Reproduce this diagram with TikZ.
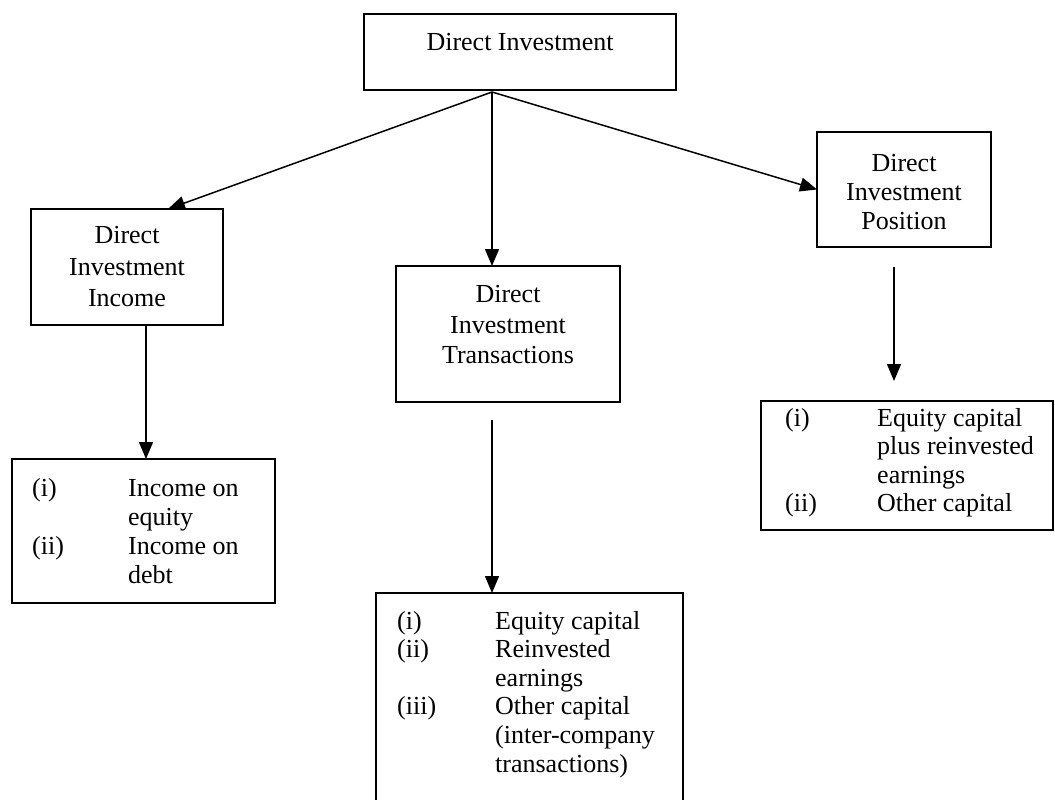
\documentclass[tikz,border=0pt]{standalone}
\usepackage{fontspec}
\setmainfont{Liberation Serif}
\usetikzlibrary{arrows.meta}
\tikzset{
  box/.style={draw, line width=1.6pt, inner sep=0pt, outer sep=0pt},
  conn/.style={line width=1.5pt, -{Triangle[length=17pt,width=14pt]}},
  ctext/.style={inner sep=0pt, align=center},
  ltext/.style={inner sep=0pt, anchor=base west, font=\fontsize{26}{29}\selectfont},
}
\begin{document}
\begin{tikzpicture}[x=1pt,y=-1pt]
\useasboundingbox (0,0) rectangle (1055,800);

% boxes
\node[box, minimum width=312pt, minimum height=76pt]  (top)    at (520,52) {};
\node[box, minimum width=192pt, minimum height=116pt] (incbox) at (127,267) {};
\node[box, minimum width=224pt, minimum height=136pt] (trbox)  at (508,334) {};
\node[box, minimum width=174pt, minimum height=115pt] (posbox) at (904,189.5) {};
\node[box, minimum width=263pt, minimum height=144pt] (inclist) at (143.5,531) {};
\node[box, minimum width=307pt, minimum height=222pt] (trlist)  at (529.5,704) {};
\node[box, minimum width=292pt, minimum height=129pt] (poslist) at (907,465.5) {};

% box titles
\node[ctext, font=\fontsize{26}{30}\selectfont] (toptxt) at (520,42) {Direct Investment};
\node[ctext, font=\fontsize{26}{31.5}\selectfont] (inctxt) at (127,267) {Direct\\Investment\\Income};
\node[ctext, font=\fontsize{26}{30.5}\selectfont] (trtxt) at (508,325) {Direct\\Investment\\Transactions};
\node[ctext, font=\fontsize{26}{29}\selectfont] (postxt) at (904,192) {Direct\\Investment\\Position};

% income list
\node[ltext] (ia) at (32,496) {(i)};
\node[ltext] (ib) at (128,496) {Income on};
\node[ltext] (ic) at (128,525) {equity};
\node[ltext] (id) at (32,554) {(ii)};
\node[ltext] (ie) at (128,554) {Income on};
\node[ltext] (if) at (128,583) {debt};

% transactions list
\node[ltext] (ta) at (397,629) {(i)};
\node[ltext] (tb) at (495,629) {Equity capital};
\node[ltext] (tc) at (397,657.6) {(ii)};
\node[ltext] (td) at (495,657.6) {Reinvested};
\node[ltext] (te) at (495,686.2) {earnings};
\node[ltext] (tf) at (397,714.8) {(iii)};
\node[ltext] (tg) at (495,714.8) {Other capital};
\node[ltext] (th) at (495,743.4) {(inter-company};
\node[ltext] (ti) at (495,772) {transactions)};

% position list
\node[ltext] (pa) at (785,426) {(i)};
\node[ltext] (pb) at (877,426) {Equity capital};
\node[ltext] (pc) at (877,454.5) {plus reinvested};
\node[ltext] (pd) at (877,483) {earnings};
\node[ltext] (pe) at (785,511.5) {(ii)};
\node[ltext] (pf) at (877,511.5) {Other capital};

% connectors
\coordinate (apex) at (492,92);
\draw[conn] (apex) -- ([xshift=41pt]incbox.north);
\draw[conn] (apex) -- (apex |- trbox.north);
\draw[conn] (apex) -- (posbox.west);

\coordinate (incout) at ([xshift=19pt]incbox.south);
\draw[conn] (incout) -- (incout |- inclist.north);

\coordinate (m2) at (492,420);
\draw[conn] (m2) -- (m2 |- trlist.north);

\coordinate (p1) at (894,267);
\coordinate (p2) at (894,381);
\draw[conn] (p1) -- (p2);
\end{tikzpicture}
\end{document}
